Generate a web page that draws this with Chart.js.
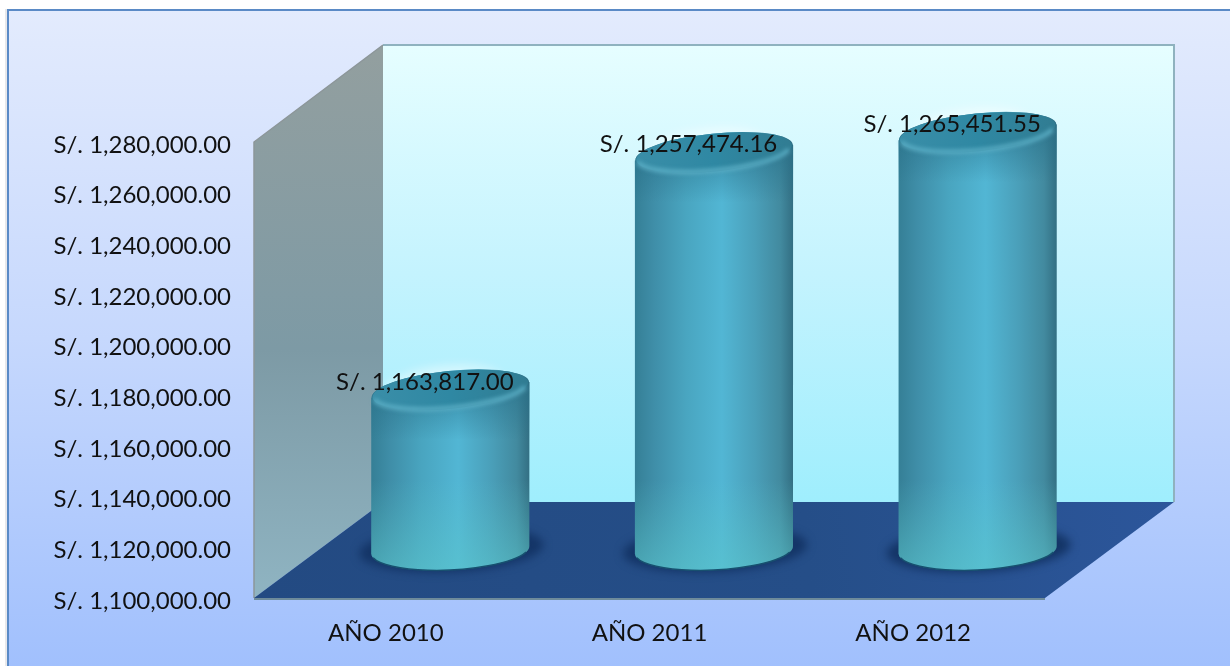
<!DOCTYPE html>
<html>
<head>
<meta charset="utf-8">
<title>Ingresos por año</title>
<script src="https://cdn.jsdelivr.net/npm/chart.js@4/dist/chart.umd.min.js"></script>
<style>
    html, body { margin: 0; padding: 0; background: #fff; }
    canvas { display: block; }
</style>
</head>
<body>
<canvas id="ingresosChart" width="1230" height="666"></canvas>
<script>
const years = ["AÑO 2010", "AÑO 2011", "AÑO 2012"];
const amounts = [1163817.00, 1257474.16, 1265451.55];
const axisMin = 1100000;
const axisMax = 1280000;
const axisStep = 20000;

// depth of the 3D box, in pixels
const DEPTH_X = 129;
const DEPTH_Y = 96;
// value labels sit up and to the left of each cap
const LABEL_DX = -25.5;
const LABEL_DY = -6.5;

const FONT = "Lato, sans-serif";
const FONT_SIZE = 24;
const money = v => "S/. " + v.toLocaleString("en-US", { minimumFractionDigits: 2, maximumFractionDigits: 2 });

function polygon(ctx, pts, fill) {
    ctx.beginPath();
    pts.forEach((p, i) => i ? ctx.lineTo(p[0], p[1]) : ctx.moveTo(p[0], p[1]));
    ctx.closePath();
    ctx.fillStyle = fill;
    ctx.fill();
}

const boxPlugin = {
    id: "box3d",
    beforeDraw(chart) {
        const ctx = chart.ctx;
        const { left, right, top, bottom } = chart.chartArea;
        const w = chart.width, h = chart.height;
        ctx.save();

        // outer panel
        ctx.fillStyle = "#e8e8ea";
        ctx.fillRect(5, 9, 2, h);
        const panel = ctx.createLinearGradient(0, 10, 0, h);
        panel.addColorStop(0, "#e3ebfd");
        panel.addColorStop(0.5, "#c6d8fd");
        panel.addColorStop(1, "#a1c0fd");
        ctx.fillStyle = panel;
        ctx.fillRect(8, 10, w, h);
        ctx.fillStyle = "#5a8ac6";
        ctx.fillRect(7, 9, w, 2);
        ctx.fillRect(7, 9, 2, h);

        const backL = left + DEPTH_X, backR = right + DEPTH_X;
        const backT = top - DEPTH_Y - 1, backB = bottom - DEPTH_Y;

        // back wall
        const back = ctx.createLinearGradient(0, backT, 0, backB);
        back.addColorStop(0, "#e6feff");
        back.addColorStop(0.5, "#c4f3fe");
        back.addColorStop(1, "#9feefd");
        ctx.fillStyle = back;
        ctx.fillRect(backL, backT, backR - backL, backB - backT);
        ctx.strokeStyle = "#8fb2bf";
        ctx.lineWidth = 2;
        ctx.beginPath();
        ctx.moveTo(backL, backT);
        ctx.lineTo(backR, backT);
        ctx.lineTo(backR, backB);
        ctx.stroke();

        // side wall
        const side = ctx.createLinearGradient(0, backT, 0, bottom);
        side.addColorStop(0, "#939f9f");
        side.addColorStop(0.55, "#7d9aa5");
        side.addColorStop(1, "#8fb4c2");
        polygon(ctx, [[left, top], [backL, backT], [backL, backB], [left, bottom]], side);
        ctx.strokeStyle = "#8c9699";
        ctx.lineWidth = 1.5;
        ctx.beginPath();
        ctx.moveTo(left, bottom);
        ctx.lineTo(left, top);
        ctx.lineTo(backL, backT);
        ctx.stroke();

        // floor
        const floor = ctx.createLinearGradient(left, bottom, backR, backB);
        floor.addColorStop(0, "#234a82");
        floor.addColorStop(0.6, "#254e88");
        floor.addColorStop(1, "#2c569b");
        polygon(ctx, [[left, bottom], [right, bottom], [backR, backB], [backL, backB]], floor);
        ctx.fillStyle = "#6e8b9b";
        ctx.fillRect(left, bottom, right - left, 2);

        ctx.restore();
    }
};

function drawCylinder(ctx, cx, valueY, baseY, halfW) {
    const ryTop = 19, ryBase = 20;
    const topY = valueY + 1.5;
    const tiltTop = -0.1, tiltBase = -0.05;
    const edgeTop = Math.sin(tiltTop) * halfW, edgeBase = Math.sin(tiltBase) * halfW;

    // shadow on the floor
    ctx.save();
    ctx.filter = "blur(4px)";
    ctx.fillStyle = "#143567";
    ctx.beginPath();
    ctx.ellipse(cx + 1, baseY - 1, halfW + 13, ryBase + 3, tiltBase, 0, Math.PI * 2);
    ctx.fill();
    ctx.restore();

    // soft light halo behind the cap
    ctx.save();
    ctx.filter = "blur(5px)";
    ctx.fillStyle = "rgba(255,255,255,0.45)";
    ctx.beginPath();
    ctx.ellipse(cx - 6, topY - 5, halfW - 20, ryTop, tiltTop, 0, Math.PI * 2);
    ctx.fill();
    ctx.restore();

    // body
    ctx.save();
    ctx.beginPath();
    ctx.moveTo(cx - halfW, topY - edgeTop);
    ctx.lineTo(cx - halfW, baseY - edgeBase);
    ctx.ellipse(cx, baseY, halfW, ryBase, tiltBase, Math.PI, 0, true);
    ctx.lineTo(cx + halfW, topY + edgeTop);
    ctx.ellipse(cx, topY, halfW, ryTop, tiltTop, 0, Math.PI, true);
    ctx.closePath();
    ctx.clip();

    const body = ctx.createLinearGradient(cx - halfW, 0, cx + halfW, 0);
    body.addColorStop(0, "#357f96");
    body.addColorStop(0.12, "#3f8ea8");
    body.addColorStop(0.32, "#49a5c0");
    body.addColorStop(0.55, "#52b6d4");
    body.addColorStop(0.76, "#4a9fb9");
    body.addColorStop(0.92, "#428a9f");
    body.addColorStop(1, "#336f83");
    ctx.fillStyle = body;
    ctx.fillRect(cx - halfW - 2, topY - ryTop - 5, halfW * 2 + 4, baseY - topY + ryTop + ryBase + 10);

    // greener foot of the cylinder
    const foot = ctx.createLinearGradient(0, baseY - 70, 0, baseY + ryBase);
    foot.addColorStop(0, "rgba(92,200,205,0)");
    foot.addColorStop(1, "rgba(92,200,205,0.55)");
    ctx.fillStyle = foot;
    ctx.fillRect(cx - halfW - 2, baseY - 70, halfW * 2 + 4, 70 + ryBase + 5);

    // darker band under the rim
    const neck = ctx.createLinearGradient(0, topY + 10, 0, topY + 50);
    neck.addColorStop(0, "rgba(38,110,135,0.45)");
    neck.addColorStop(1, "rgba(38,110,135,0)");
    ctx.fillStyle = neck;
    ctx.fillRect(cx - halfW - 2, topY - ryTop, halfW * 2 + 4, ryTop + 70);
    ctx.restore();

    // cap
    const cap = ctx.createLinearGradient(cx - halfW, 0, cx + halfW, 0);
    cap.addColorStop(0, "#3a8ea8");
    cap.addColorStop(0.5, "#2f88a3");
    cap.addColorStop(1, "#317c92");
    ctx.fillStyle = cap;
    ctx.beginPath();
    ctx.ellipse(cx, topY, halfW - 1, ryTop, tiltTop, 0, Math.PI * 2);
    ctx.fill();

    // lit rim along the front of the cap
    ctx.save();
    ctx.filter = "blur(2px)";
    ctx.strokeStyle = "#5cafc6";
    ctx.lineWidth = 4;
    ctx.beginPath();
    ctx.ellipse(cx, topY, halfW - 2, ryTop - 1, tiltTop, 0.25, Math.PI - 0.1);
    ctx.stroke();
    ctx.restore();

    // dark line where the foot meets the floor
    ctx.save();
    ctx.filter = "blur(0.7px)";
    ctx.strokeStyle = "#17506f";
    ctx.lineWidth = 1.5;
    ctx.beginPath();
    ctx.ellipse(cx, baseY, halfW, ryBase, tiltBase, 0.3, Math.PI - 0.2);
    ctx.stroke();
    ctx.restore();
}

const cylinderPlugin = {
    id: "cylinders",
    afterDatasetsDraw(chart) {
        const ctx = chart.ctx;
        const bars = chart.getDatasetMeta(0).data;
        const yScale = chart.scales.y;
        // cylinders stand halfway into the box, on the floor of the axis
        const dx = DEPTH_X / 2, dy = DEPTH_Y / 2;
        const floorY = yScale.getPixelForValue(axisMin);

        bars.forEach(bar => {
            drawCylinder(ctx, bar.x + dx, bar.y - dy, floorY - dy, bar.width / 2);
        });

        ctx.save();
        ctx.font = FONT_SIZE + "px " + FONT;
        ctx.fillStyle = "#111";
        ctx.textAlign = "center";
        ctx.textBaseline = "middle";
        bars.forEach((bar, i) => {
            ctx.fillText(money(amounts[i]), bar.x + dx + LABEL_DX, bar.y - dy + LABEL_DY);
        });
        ctx.restore();
    }
};

new Chart(document.getElementById("ingresosChart"), {
    type: "bar",
    data: {
        labels: years,
        datasets: [{
            label: "Ingresos",
            data: amounts,
            backgroundColor: "rgba(0,0,0,0)",
            categoryPercentage: 1,
            barPercentage: 0.6
        }]
    },
    options: {
        responsive: false,
        animation: false,
        layout: { padding: { left: 0, top: 142, right: 185, bottom: 0 } },
        plugins: { legend: { display: false }, tooltip: { enabled: false } },
        scales: {
            x: {
                grid: { display: false },
                border: { display: false },
                afterFit: s => { s.height = 68; },
                ticks: { color: "#111", padding: 13, maxRotation: 0, font: { family: FONT, size: FONT_SIZE } }
            },
            y: {
                min: axisMin,
                max: axisMax,
                grid: { display: false },
                border: { display: false },
                afterFit: s => { s.width = 254; },
                ticks: {
                    stepSize: axisStep,
                    color: "#111",
                    padding: 15,
                    labelOffset: 3,
                    font: { family: FONT, size: FONT_SIZE },
                    callback: v => money(v)
                }
            }
        }
    },
    plugins: [boxPlugin, cylinderPlugin]
});
</script>
</body>
</html>
